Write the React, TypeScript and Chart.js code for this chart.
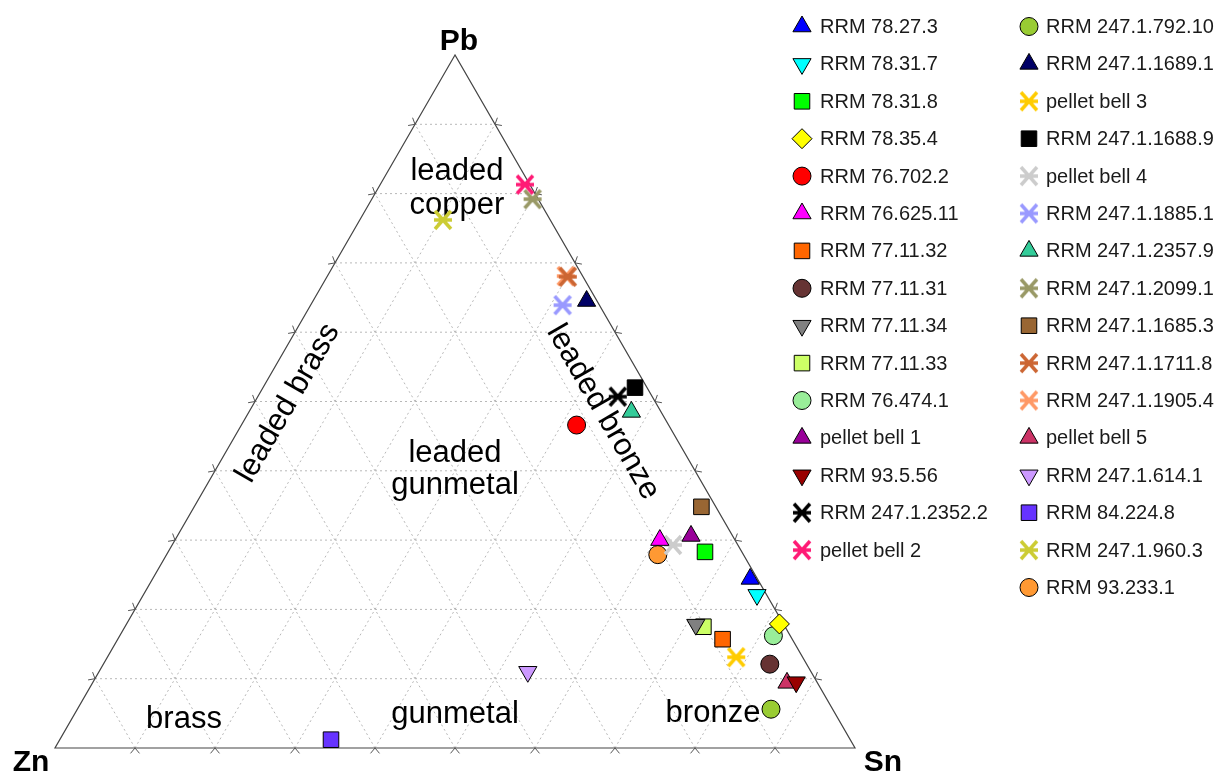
import React, { useEffect, useRef } from 'react';
import { Chart, registerables } from 'chart.js';
import { drawPoint } from 'chart.js/helpers';

Chart.register(...registerables);

// ---- data ----
const sampleNames = [
  'RRM 78.27.3', 'RRM 78.31.7', 'RRM 78.31.8', 'RRM 78.35.4', 'RRM 76.702.2',
  'RRM 76.625.11', 'RRM 77.11.32', 'RRM 77.11.31', 'RRM 77.11.34', 'RRM 77.11.33',
  'RRM 76.474.1', 'pellet bell 1', 'RRM 93.5.56', 'RRM 247.1.2352.2', 'pellet bell 2',
  'RRM 247.1.792.10', 'RRM 247.1.1689.1', 'pellet bell 3', 'RRM 247.1.1688.9', 'pellet bell 4',
  'RRM 247.1.1885.1', 'RRM 247.1.2357.9', 'RRM 247.1.2099.1', 'RRM 247.1.1685.3', 'RRM 247.1.1711.8',
  'RRM 247.1.1905.4', 'pellet bell 5', 'RRM 247.1.614.1', 'RRM 84.224.8', 'RRM 247.1.960.3',
  'RRM 93.233.1',
];
const pbPct = [
  24.4, 22.1, 28.3, 17.9, 46.6,
  30.0, 15.7, 12.1, 17.8, 17.5,
  16.2, 30.6, 9.5, 50.7, 81.3,
  5.6, 64.5, 13.1, 52.0, 29.3,
  63.9, 48.5, 79.2, 34.8, 68.0,
  68.1, 9.4, 11.0, 1.2, 76.2,
  27.9,
];
const snPct = [
  74.7, 76.7, 67.1, 81.6, 41.9,
  60.6, 75.6, 83.3, 71.2, 72.3,
  81.7, 64.2, 87.9, 45.0, 18.1,
  86.7, 34.2, 78.6, 46.5, 62.6,
  31.5, 47.8, 20.1, 63.4, 30.1,
  29.8, 86.8, 53.6, 33.9, 10.4,
  61.4,
];
const znPct = [
  0.9, 1.2, 4.6, 0.5, 11.5,
  9.4, 8.7, 4.6, 11.0, 10.2,
  2.1, 5.2, 2.6, 4.3, 0.6,
  7.7, 1.3, 8.3, 1.5, 8.1,
  4.6, 3.7, 0.7, 1.8, 1.9,
  2.1, 3.8, 35.4, 64.9, 13.4,
  10.7,
];
const markerColors = [
  '#0000ff', '#00ffff', '#00ff00', '#ffff00', '#ff0000',
  '#ff00ff', '#ff6600', '#663333', '#808080', '#ccff66',
  '#99ee99', '#990099', '#990000', '#000000', '#ff1a75',
  '#99cc33', '#000066', '#ffcc00', '#000000', '#cccccc',
  '#9999ff', '#33cc99', '#999966', '#996633', '#cc6633',
  '#ff9966', '#cc3366', '#cc99ff', '#6633ff', '#cccc33',
  '#ff9933',
];
const markerShapes = [
  'triangle', 'triangleDown', 'rect', 'rectRot', 'circle',
  'triangle', 'rect', 'circle', 'triangleDown', 'rect',
  'circle', 'triangle', 'triangleDown', 'asterisk', 'asterisk',
  'circle', 'triangle', 'asterisk', 'rect', 'asterisk',
  'asterisk', 'triangle', 'asterisk', 'rect', 'asterisk',
  'asterisk', 'triangle', 'triangleDown', 'rect', 'asterisk',
  'circle',
];
const legendColumnSplit = 15;
const vertexLabels = ['Pb', 'Zn', 'Sn'];
const gridDivisions = 10;

const H = Math.sqrt(3) / 2;

function toXY(pb: number, sn: number, zn: number) {
  const t = pb + sn + zn;
  const p = pb / t;
  const s = sn / t;
  return { x: s + p / 2, y: p * H };
}

function makeAsterisk(color: string): HTMLCanvasElement {
  const c = document.createElement('canvas');
  c.width = 24;
  c.height = 24;
  const g = c.getContext('2d')!;
  g.strokeStyle = color;
  g.lineWidth = 3.5;
  g.beginPath();
  g.moveTo(3, 12); g.lineTo(21, 12);
  g.moveTo(4, 3); g.lineTo(20, 21);
  g.moveTo(4, 21); g.lineTo(20, 3);
  g.stroke();
  return c;
}

function styleFor(i: number) {
  const shape = markerShapes[i];
  const color = markerColors[i];
  if (shape === 'asterisk') {
    return { pointStyle: makeAsterisk(color) as any, rotation: 0, radius: 10, borderWidth: 0 };
  }
  if (shape === 'triangle') return { pointStyle: 'triangle', rotation: 0, radius: 10.5, borderWidth: 1 };
  if (shape === 'triangleDown') return { pointStyle: 'triangle', rotation: 180, radius: 10.5, borderWidth: 1 };
  if (shape === 'rect') return { pointStyle: 'rect', rotation: 0, radius: 11, borderWidth: 1 };
  if (shape === 'rectRot') return { pointStyle: 'rectRot', rotation: 0, radius: 10, borderWidth: 1 };
  return { pointStyle: 'circle', rotation: 0, radius: 9, borderWidth: 1 };
}

export default function App() {
  const canvasRef = useRef<HTMLCanvasElement | null>(null);

  useEffect(() => {
    const canvas = canvasRef.current;
    if (!canvas) return;
    const styles = sampleNames.map((_, i) => styleFor(i));

    const datasets = sampleNames.map((name, i) => {
      const s = styles[i];
      return {
        label: name,
        data: [toXY(pbPct[i], snPct[i], znPct[i])],
        pointStyle: s.pointStyle,
        rotation: s.rotation,
        pointRadius: s.radius,
        pointHoverRadius: s.radius,
        backgroundColor: markerColors[i],
        borderColor: '#000000',
        borderWidth: s.borderWidth,
        pointBorderWidth: s.borderWidth,
        clip: false as any,
      };
    });

    const frame = {
      id: 'ternaryFrame',
      beforeDatasetsDraw(chart: any) {
        const ctx = chart.ctx as CanvasRenderingContext2D;
        const xs = chart.scales.x;
        const ys = chart.scales.y;
        const P = (pb: number, sn: number) => {
          const p = toXY(pb, sn, 1 - pb - sn);
          return [xs.getPixelForValue(p.x), ys.getPixelForValue(p.y)];
        };
        ctx.save();
        // grid
        ctx.strokeStyle = '#b8b8b8';
        ctx.lineWidth = 1;
        ctx.setLineDash([2, 3]);
        ctx.beginPath();
        for (let k = 1; k < gridDivisions; k++) {
          const f = k / gridDivisions;
          let a = P(f, 0), b = P(f, 1 - f);
          ctx.moveTo(a[0], a[1]); ctx.lineTo(b[0], b[1]);
          a = P(0, f); b = P(1 - f, f);
          ctx.moveTo(a[0], a[1]); ctx.lineTo(b[0], b[1]);
          a = P(0, 1 - f); b = P(1 - f, 0);
          ctx.moveTo(a[0], a[1]); ctx.lineTo(b[0], b[1]);
        }
        ctx.stroke();
        ctx.setLineDash([]);
        // triangle
        const A = P(1, 0), Zn = P(0, 0), Sn = P(0, 1);
        ctx.strokeStyle = '#444444';
        ctx.lineWidth = 1.2;
        ctx.beginPath();
        ctx.moveTo(A[0], A[1]); ctx.lineTo(Zn[0], Zn[1]); ctx.lineTo(Sn[0], Sn[1]); ctx.closePath();
        ctx.stroke();
        // ticks (chevrons)
        const chevron = (pt: number[], nx: number, ny: number) => {
          const L = 7;
          const ang = (40 * Math.PI) / 180;
          for (const sgn of [-1, 1]) {
            const c = Math.cos(sgn * ang), s = Math.sin(sgn * ang);
            const dx = nx * c - ny * s, dy = nx * s + ny * c;
            ctx.moveTo(pt[0], pt[1]);
            ctx.lineTo(pt[0] + dx * L, pt[1] + dy * L);
          }
        };
        ctx.strokeStyle = '#555555';
        ctx.lineWidth = 1;
        ctx.beginPath();
        for (let k = 1; k < gridDivisions; k++) {
          const f = k / gridDivisions;
          chevron(P(0, f), 0, 1);
          chevron(P(f, 0), -H, -0.5);
          chevron(P(f, 1 - f), H, -0.5);
        }
        ctx.stroke();

        // vertex labels
        ctx.fillStyle = '#000000';
        ctx.font = 'bold 30px "Liberation Sans", Arial, sans-serif';
        ctx.textAlign = 'center';
        ctx.textBaseline = 'alphabetic';
        ctx.fillText(vertexLabels[0], A[0] + 4, A[1] - 5);
        ctx.fillText(vertexLabels[1], Zn[0] - 24, Zn[1] + 23);
        ctx.fillText(vertexLabels[2], Sn[0] + 28, Sn[1] + 23);

        // region labels
        ctx.font = '31px "Liberation Sans", Arial, sans-serif';
        ctx.fillText('leaded', 457, 180);
        ctx.fillText('copper', 457, 214);
        ctx.fillText('leaded', 455, 462);
        ctx.fillText('gunmetal', 455, 494);
        ctx.fillText('brass', 184, 728);
        ctx.fillText('gunmetal', 455, 723);
        ctx.fillText('bronze', 713, 722);
        ctx.textBaseline = 'middle';
        ctx.save();
        ctx.translate(288, 403);
        ctx.rotate(-Math.PI / 3);
        ctx.fillText('leaded brass', 0, 0);
        ctx.restore();
        ctx.save();
        ctx.translate(603, 412);
        ctx.rotate(Math.PI / 3);
        ctx.fillText('leaded bronze', 0, 0);
        ctx.restore();
        ctx.restore();
      },
      afterDatasetsDraw(chart: any) {
        const ctx = chart.ctx as CanvasRenderingContext2D;
        ctx.save();
        ctx.font = '20px "Liberation Sans", Arial, sans-serif';
        ctx.textAlign = 'left';
        ctx.textBaseline = 'middle';
        sampleNames.forEach((name, i) => {
          const col = i < legendColumnSplit ? 0 : 1;
          const row = col === 0 ? i : i - legendColumnSplit;
          const mx = col === 0 ? 802 : 1029;
          const tx = col === 0 ? 820 : 1046;
          const y = 26.5 + row * 37.4;
          const s = styles[i];
          ctx.fillStyle = markerColors[i];
          ctx.strokeStyle = '#000000';
          ctx.lineWidth = s.borderWidth;
          drawPoint(ctx, { pointStyle: s.pointStyle, rotation: s.rotation, radius: s.radius, borderWidth: s.borderWidth } as any, mx, y);
          ctx.fillStyle = '#1a1a1a';
          ctx.fillText(name, tx, y + 1);
        });
        ctx.restore();
      },
    };

    const chart = new Chart(canvas, {
      type: 'scatter',
      data: { datasets: datasets as any },
      options: {
        animation: false,
        responsive: false,
        devicePixelRatio: 1,
        layout: { padding: { left: 55, right: 371, top: 55, bottom: 24 } },
        scales: {
          x: { type: 'linear', min: 0, max: 1, display: false },
          y: { type: 'linear', min: 0, max: H, display: false },
        },
        plugins: { legend: { display: false }, tooltip: { enabled: false } },
        events: [],
      },
      plugins: [frame as any],
    });
    return () => chart.destroy();
  }, []);

  return (
    <div style={{ position: 'absolute', left: 0, top: 0, width: 1226, height: 772, background: '#ffffff' }}>
      <canvas ref={canvasRef} width={1226} height={772} style={{ display: 'block' }} />
    </div>
  );
}
